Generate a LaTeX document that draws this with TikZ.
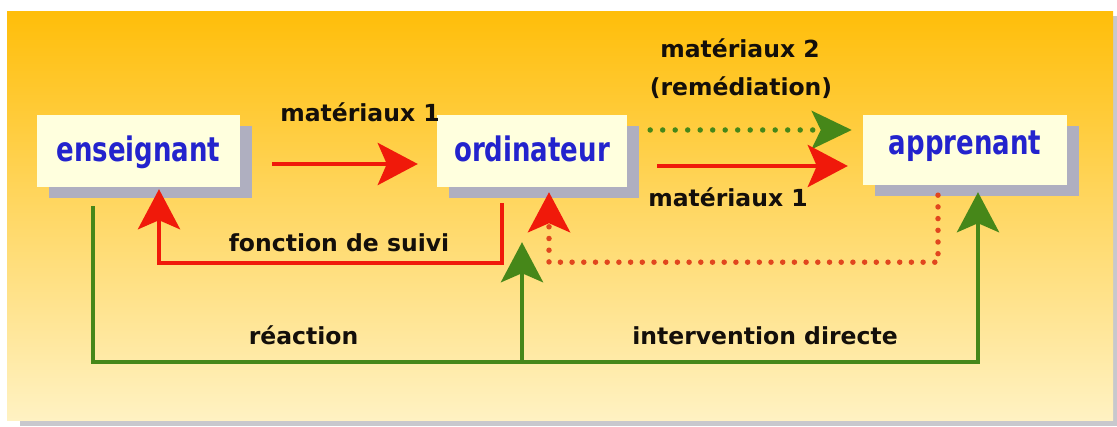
\documentclass[tikz,border=0pt]{standalone}
\usepackage{fontspec}
\setmainfont{DejaVu Sans}
\usetikzlibrary{arrows.meta,shadows}
\definecolor{bgtop}{RGB}{255,190,10}
\definecolor{bgmid}{RGB}{255,216,95}
\definecolor{bgbot}{RGB}{255,242,195}
\definecolor{boxfill}{RGB}{255,255,222}
\definecolor{shadowgray}{RGB}{175,175,192}
\definecolor{edgegray}{RGB}{200,200,205}
\definecolor{arrred}{RGB}{240,25,10}
\definecolor{dotred}{RGB}{225,70,30}
\definecolor{arrgreen}{RGB}{70,135,25}
\definecolor{boxblue}{RGB}{35,35,205}
\definecolor{labelblack}{RGB}{20,15,10}
\begin{document}
\begin{tikzpicture}[x=1pt,y=-1pt,
  actor/.style={fill=boxfill, inner sep=0pt, minimum height=72pt, text=boxblue,
    font=\fontsize{26}{30}\selectfont\bfseries,
    drop shadow={shadow xshift=12pt, shadow yshift=-11pt, fill=shadowgray, opacity=1}},
  lab/.style={anchor=base, text=labelblack, font=\fontsize{23.5}{28}\selectfont\bfseries, inner sep=0pt},
  redarrow/.style={draw=arrred, line width=4.5pt, -{Stealth[length=40pt,width=42pt,inset=9pt,fill=arrred]}},
  greenarrow/.style={draw=arrgreen, line width=4.5pt, -{Stealth[length=40pt,width=42pt,inset=9pt,fill=arrgreen]}},
  greendotted/.style={draw=arrgreen, line width=5.5pt, line cap=round, dash pattern=on 0pt off 12.5pt,
    -{Stealth[length=40pt,width=38pt,inset=9pt,color=arrgreen,fill=arrgreen]}},
  reddotted/.style={draw=dotred, line width=5.5pt, line cap=round, dash pattern=on 0pt off 11.7pt,
    -{Stealth[length=40pt,width=42pt,inset=9pt,color=arrred,fill=arrred]}}
]
\useasboundingbox (0,0) rectangle (1117,427);
% background with its shadow
\fill[edgegray] (20,420) rectangle (1117,426);
\fill[edgegray] (1112,16) rectangle (1117,426);
\shade[top color=bgtop, middle color=bgmid, bottom color=bgbot] (7,12) rectangle (1113,421);

% boxes
\node[actor, minimum width=203pt, text height=22pt, text depth=0pt] (ens) at (138.5,151) {\scalebox{1}[1.3]{enseignant}};
\node[actor, minimum width=190pt, text height=22pt, text depth=0pt] (ord) at (532,151) {\scalebox{1}[1.3]{ordinateur}};
\node[actor, minimum width=204pt, minimum height=70pt, text height=10pt, text depth=0pt] (app) at (965,150) {\scalebox{1}[1.3]{apprenant}};

% labels
\node[lab] (m1a) at (360,122) {matériaux 1};
\node[lab] (m2) at (740,58) {matériaux 2};
\node[lab] (rem) at (741,96) {(remédiation)};
\node[lab] (m1b) at (728,207) {matériaux 1};
\node[lab] (suivi) at (339,252) {fonction de suivi};
\node[lab] (reac) at (303.5,345) {réaction};
\node[lab] (interv) at (765,345) {intervention directe};

% connectors
\draw[redarrow, shorten <=32pt, shorten >=19pt] ([yshift=-13pt]ens.east) -- ([yshift=-13pt]ord.west);
\draw[greendotted, shorten <=23pt, shorten >=11pt] ([yshift=21pt]ord.east) -- ([yshift=20pt]app.west);
\draw[redarrow, shorten <=30pt, shorten >=15pt] ([yshift=-15pt]ord.east) -- ([yshift=-16pt]app.west);
\draw[redarrow] ([xshift=-30pt,yshift=-16pt]ord.south) -- ++(0,60) -| ([xshift=20.5pt,yshift=-2pt]ens.south);
\draw[reddotted] ([xshift=-27pt,yshift=-10pt]app.south) -- ++(0,67) -| ([xshift=17pt,yshift=-5pt]ord.south);
\draw[greenarrow] ([xshift=-45.5pt,yshift=-19pt]ens.south) -- ++(0,156) coordinate (gcorner) -| ([xshift=13pt,yshift=-7pt]app.south);
\coordinate (ordtip) at ([xshift=-10pt,yshift=-55pt]ord.south);
\draw[greenarrow] (ordtip |- gcorner) -- (ordtip);
\end{tikzpicture}
\end{document}
